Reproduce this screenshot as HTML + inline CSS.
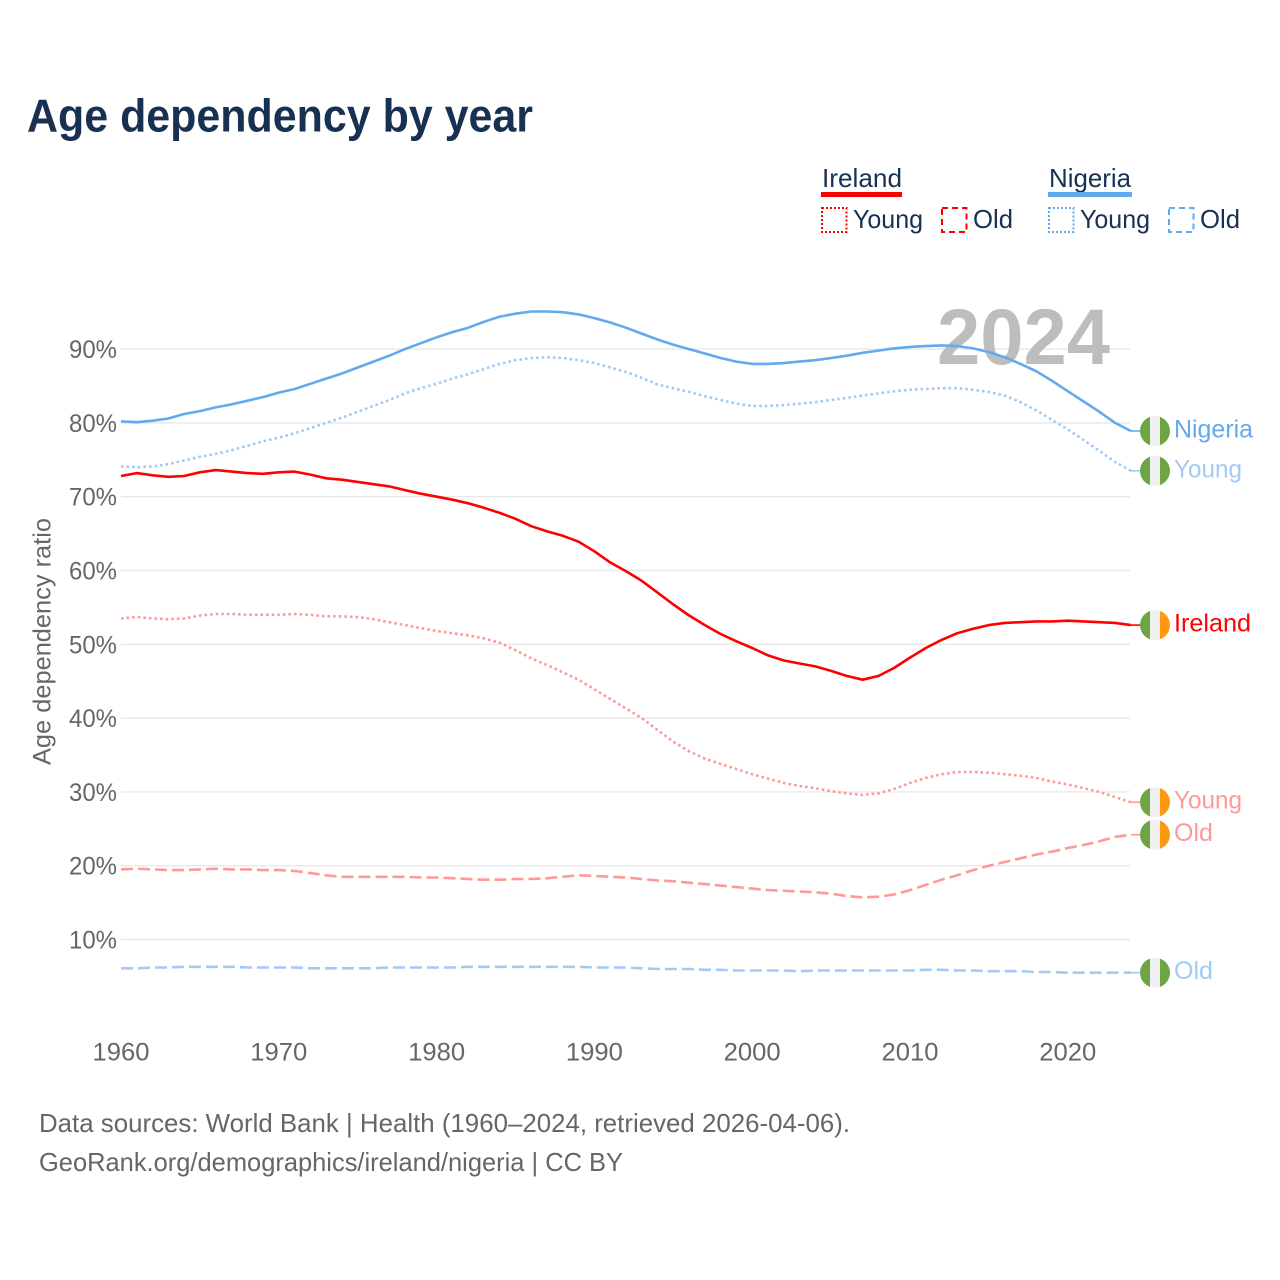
<!DOCTYPE html>
<html lang="en">
<head>
<meta charset="utf-8">
<title>Age dependency by year</title>
<style>
html,body{margin:0;padding:0;background:#fff;width:1280px;height:1280px;overflow:hidden}
svg{display:block}
text{font-family:"Liberation Sans",sans-serif}
</style>
</head>
<body>
<svg id="chart" xmlns="http://www.w3.org/2000/svg" width="1280" height="1280" viewBox="0 0 1280 1280">
  <text x="27" y="131.5" font-size="46" font-weight="700" fill="#183153" textLength="506" lengthAdjust="spacingAndGlyphs">Age dependency by year</text>

  <g>
    <text x="822" y="187" font-size="26" fill="#183153" textLength="80" lengthAdjust="spacingAndGlyphs">Ireland</text>
    <rect x="821" y="192" width="81" height="5" fill="#ff0000"/>
    <rect x="822" y="208" width="24.5" height="24" fill="none" stroke="#ff0000" stroke-width="2" stroke-dasharray="2 2"/>
    <text x="853" y="228" font-size="26" fill="#183153" textLength="70" lengthAdjust="spacingAndGlyphs">Young</text>
    <rect x="942" y="208" width="24.5" height="24" fill="none" stroke="#ff0000" stroke-width="2" stroke-dasharray="6 4"/>
    <text x="973" y="228" font-size="26" fill="#183153" textLength="40" lengthAdjust="spacingAndGlyphs">Old</text>

    <text x="1049" y="187" font-size="26" fill="#183153" textLength="82" lengthAdjust="spacingAndGlyphs">Nigeria</text>
    <rect x="1048" y="192" width="84" height="5" fill="#63a9ee"/>
    <rect x="1049" y="208" width="24.5" height="24" fill="none" stroke="#63a9ee" stroke-width="2" stroke-dasharray="2 2"/>
    <text x="1080" y="228" font-size="26" fill="#183153" textLength="70" lengthAdjust="spacingAndGlyphs">Young</text>
    <rect x="1169" y="208" width="24.5" height="24" fill="none" stroke="#63a9ee" stroke-width="2" stroke-dasharray="6 4"/>
    <text x="1200" y="228" font-size="26" fill="#183153" textLength="40" lengthAdjust="spacingAndGlyphs">Old</text>
  </g>

  <g id="grid"></g>
  <g id="yticks"></g>
  <g id="xticks"></g>

  <text transform="translate(50.5,641.5) rotate(-90)" text-anchor="middle" font-size="25" fill="#666666" textLength="247" lengthAdjust="spacingAndGlyphs">Age dependency ratio</text>

  <text x="937" y="364" font-size="79" font-weight="700" fill="#bdbdbd" textLength="173" lengthAdjust="spacingAndGlyphs">2024</text>

  <g id="lines"></g>
  <g id="ends"></g>

  <text x="39" y="1132" font-size="26" fill="#666666" textLength="811" lengthAdjust="spacingAndGlyphs">Data sources: World Bank | Health (1960–2024, retrieved 2026-04-06).</text>
  <text x="39" y="1171" font-size="26" fill="#666666" textLength="584" lengthAdjust="spacingAndGlyphs">GeoRank.org/demographics/ireland/nigeria | CC BY</text>
</svg>

<script>
const startYear = 1960;
const xTickYears = [1960, 1970, 1980, 1990, 2000, 2010, 2020];
const yTickValues = [10, 20, 30, 40, 50, 60, 70, 80, 90];

const nigeriaTotal = [80.2,80.1,80.3,80.6,81.2,81.6,82.1,82.5,83.0,83.5,84.1,84.6,85.3,86.0,86.7,87.5,88.3,89.1,90.0,90.8,91.6,92.3,92.9,93.7,94.4,94.8,95.1,95.1,95.0,94.7,94.2,93.6,92.9,92.1,91.3,90.6,90.0,89.4,88.8,88.3,88.0,88.0,88.1,88.3,88.5,88.8,89.1,89.5,89.8,90.1,90.3,90.4,90.5,90.4,90.1,89.6,88.9,88.0,87.0,85.7,84.3,82.9,81.5,80.0,78.9];
const nigeriaYoung = [74.1,74.0,74.1,74.4,74.9,75.4,75.8,76.3,76.9,77.5,78.0,78.6,79.3,80.0,80.7,81.5,82.3,83.1,84.0,84.7,85.3,86.0,86.6,87.3,88.0,88.5,88.8,88.9,88.8,88.5,88.1,87.5,86.9,86.1,85.2,84.7,84.2,83.6,83.1,82.6,82.3,82.3,82.4,82.6,82.8,83.1,83.4,83.7,84.0,84.3,84.5,84.6,84.7,84.7,84.5,84.2,83.7,82.8,81.7,80.4,79.1,77.7,76.2,74.7,73.5];
const nigeriaOld = [6.1,6.1,6.2,6.2,6.3,6.3,6.3,6.3,6.2,6.2,6.2,6.2,6.1,6.1,6.1,6.1,6.1,6.2,6.2,6.2,6.2,6.2,6.3,6.3,6.3,6.3,6.3,6.3,6.3,6.3,6.2,6.2,6.2,6.1,6.0,6.0,6.0,5.9,5.9,5.8,5.8,5.8,5.8,5.7,5.8,5.8,5.8,5.8,5.8,5.8,5.8,5.9,5.9,5.8,5.8,5.7,5.7,5.7,5.6,5.6,5.5,5.5,5.5,5.5,5.5];
const irelandTotal = [72.8,73.2,72.9,72.7,72.8,73.3,73.6,73.4,73.2,73.1,73.3,73.4,73.0,72.5,72.3,72.0,71.7,71.4,70.9,70.4,70.0,69.6,69.1,68.5,67.8,67.0,66.0,65.3,64.7,63.9,62.6,61.1,59.9,58.6,57.0,55.4,53.9,52.6,51.4,50.4,49.5,48.5,47.8,47.4,47.0,46.4,45.7,45.2,45.7,46.8,48.2,49.5,50.6,51.5,52.1,52.6,52.9,53.0,53.1,53.1,53.2,53.1,53.0,52.9,52.6];
const irelandYoung = [53.5,53.7,53.5,53.4,53.5,53.9,54.1,54.1,54.0,54.0,54.0,54.1,54.0,53.8,53.8,53.7,53.4,53.0,52.6,52.2,51.8,51.5,51.2,50.8,50.2,49.2,48.1,47.2,46.2,45.2,43.9,42.6,41.3,40.0,38.4,36.8,35.5,34.5,33.8,33.1,32.4,31.8,31.2,30.8,30.5,30.1,29.8,29.6,29.8,30.4,31.2,31.9,32.4,32.7,32.7,32.6,32.4,32.2,31.9,31.4,31.0,30.5,30.0,29.3,28.6];
const irelandOld = [19.5,19.6,19.5,19.4,19.4,19.5,19.6,19.5,19.5,19.4,19.4,19.3,19.0,18.7,18.5,18.5,18.5,18.5,18.5,18.4,18.4,18.3,18.2,18.1,18.1,18.2,18.2,18.3,18.5,18.7,18.6,18.5,18.4,18.2,18.0,17.9,17.7,17.5,17.3,17.1,16.9,16.7,16.6,16.5,16.4,16.2,15.9,15.7,15.8,16.1,16.7,17.4,18.1,18.7,19.4,20.0,20.5,21.0,21.5,21.9,22.4,22.8,23.3,23.9,24.2];

const SVGNS = 'http://www.w3.org/2000/svg';
const xScale = year => 121 + (year - 1960) * 15.78;
const yScale = value => 1013.3 - value * 7.38;

function make(tag, parent, attrs) {
  const el = document.createElementNS(SVGNS, tag);
  for (const k in attrs) el.setAttribute(k, attrs[k]);
  parent.appendChild(el);
  return el;
}

const gridG = document.getElementById('grid');
const yG = document.getElementById('yticks');
const xG = document.getElementById('xticks');
const linesG = document.getElementById('lines');
const endsG = document.getElementById('ends');

yTickValues.forEach(v => {
  const line = make('line', gridG, {x1: 121, x2: 1130, y1: yScale(v), y2: yScale(v), stroke: '#e8e8e8', 'stroke-width': 1.4});
  
  
  const t = make('text', yG, {x: 117, y: yScale(v) + 9, 'text-anchor': 'end', 'font-size': 25, fill: '#666666', textLength: 48, lengthAdjust: 'spacingAndGlyphs'});
  
  
  t.textContent = v + '%';
});

xTickYears.forEach(yr => {
  const t = make('text', xG, {x: xScale(yr), y: 1060.5, 'text-anchor': 'middle', 'font-size': 25, fill: '#666666', textLength: 57, lengthAdjust: 'spacingAndGlyphs'});
  
  
  t.textContent = yr;
});

const seriesList = [
  {key: 'ireland-old', values: irelandOld, color: '#ff9999', dash: '12 5', width: 2.6, label: 'Old', len: 39, right: '#ff9811'},
  {key: 'ireland-young', values: irelandYoung, color: '#ff9999', dash: '2.6 3', width: 2.6, label: 'Young', len: 68, right: '#ff9811'},
  {key: 'ireland-total', values: irelandTotal, color: '#ff0000', dash: '', width: 2.6, label: 'Ireland', len: 77, right: '#ff9811'},
  {key: 'nigeria-old', values: nigeriaOld, color: '#a1caf5', dash: '12 5', width: 2.6, label: 'Old', len: 39, right: '#6da544'},
  {key: 'nigeria-young', values: nigeriaYoung, color: '#a1caf5', dash: '2.6 3', width: 2.6, label: 'Young', len: 68, right: '#6da544'},
  {key: 'nigeria-total', values: nigeriaTotal, color: '#63a9ee', dash: '', width: 2.6, label: 'Nigeria', len: 79, right: '#6da544'}
];

seriesList.forEach(s => {
  const d = s.values.map((v, i) => (i ? 'L' : 'M') + xScale(startYear + i).toFixed(1) + ' ' + yScale(v).toFixed(1)).join(' ');
  const path = make('path', linesG, {d: d, fill: 'none', stroke: s.color, 'stroke-width': s.width, 'stroke-linejoin': 'round'});
  if (s.dash) path.setAttribute('stroke-dasharray', s.dash);
  
  

  const lastIndex = s.values.length - 1;
  const endX = xScale(startYear + lastIndex);
  const endY = yScale(s.values[lastIndex]);
  const connector = make('line', linesG, {x1: endX, y1: endY, x2: 1140, y2: endY, stroke: s.color, 'stroke-width': 1.6});
  
  

  const cx = 1155;
  const flag = make('g', endsG, {});
  
  
  const clipId = 'clip-' + s.key;
  const clip = make('clipPath', flag, {id: clipId});
  make('circle', clip, {cx: cx, cy: endY, r: 15});
  const g = make('g', flag, {'clip-path': 'url(#' + clipId + ')'});
  make('rect', g, {x: cx - 15, y: endY - 15, width: 10, height: 30, fill: '#6da544'});
  make('rect', g, {x: cx - 5, y: endY - 15, width: 10, height: 30, fill: '#f0f0f0'});
  make('rect', g, {x: cx + 5, y: endY - 15, width: 10, height: 30, fill: s.right});

  const label = make('text', endsG, {x: 1174, y: endY + 6.5, 'font-size': 25, fill: s.color, textLength: s.len, lengthAdjust: 'spacingAndGlyphs'});
  
  
  label.textContent = s.label;
});
</script>
</body>
</html>
